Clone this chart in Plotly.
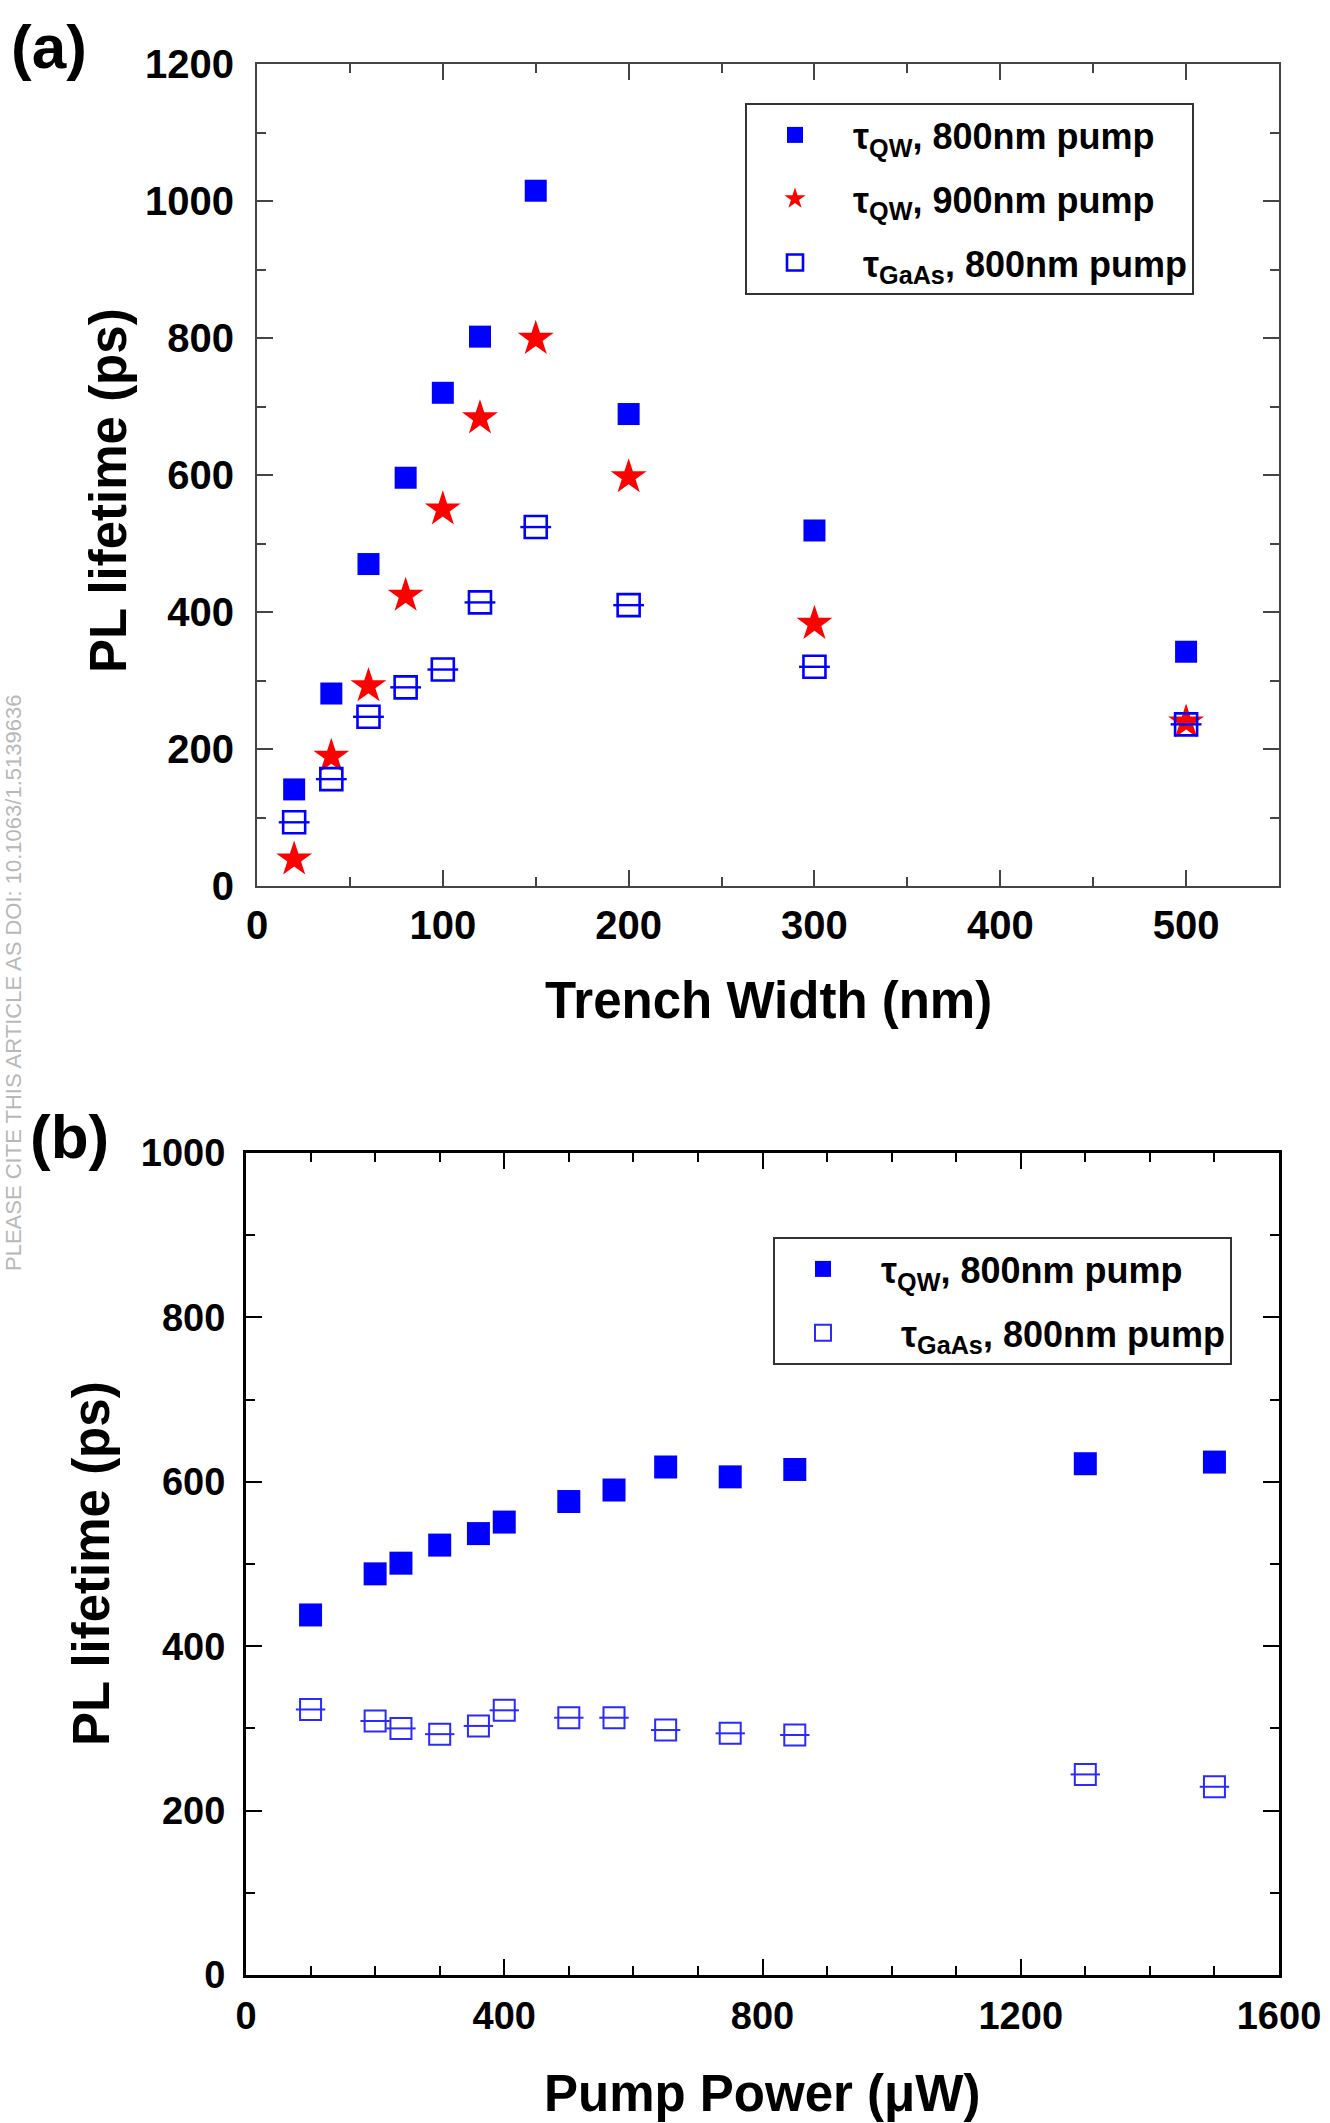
import plotly.graph_objects as go

# ---------------- data: panel (a) ----------------
trench_width = [20, 40, 60, 80, 100, 120, 150, 200, 300, 500]
tau_qw_800 = [141, 281, 470, 596, 720, 802, 1015, 689, 519, 342]
tau_qw_900 = [39, 189, 292, 424, 550, 683, 799, 597, 383, 239]
tau_gaas_800 = [93, 156, 247, 290, 316, 414, 524, 410, 320, 236]

# ---------------- data: panel (b) ----------------
pump_power = [100, 200, 240, 300, 360, 400, 500, 570, 650, 750, 850, 1300, 1500]
tau_qw_b = [438, 488, 501, 523, 537, 551, 576, 590, 618, 606, 615, 622, 624]
tau_gaas_b = [323, 309, 300, 293, 303, 322, 313, 313, 298, 294, 292, 244, 229]

W, H = 1330, 2123
FONT = "Liberation Sans, Arial, sans-serif"
BLUE = "#0000ff"
RED = "#ff0000"
LBLUE = "#2a2aff"
NB = "\u00a0"

fig = go.Figure()

# panel (a)
fig.add_trace(go.Scatter(x=trench_width, y=tau_qw_800, mode="markers", xaxis="x", yaxis="y",
                         name=NB + "τ<sub>QW</sub>, 800nm pump", legend="legend", legendgroup="a1",
                         marker=dict(symbol="square", size=22, color=BLUE, line=dict(width=0))))
fig.add_trace(go.Scatter(x=trench_width, y=tau_qw_900, mode="markers", xaxis="x", yaxis="y",
                         name=NB + "τ<sub>QW</sub>, 900nm pump", legend="legend", legendgroup="a2",
                         marker=dict(symbol="star", size=27, color=RED, line=dict(width=0))))
fig.add_trace(go.Scatter(x=trench_width, y=tau_gaas_800, mode="markers", xaxis="x", yaxis="y",
                         name=NB * 2 + "τ<sub>GaAs</sub>, 800nm pump", legend="legend", legendgroup="a3",
                         marker=dict(symbol="square-open", size=22, color=BLUE,
                                     line=dict(width=2.6, color=BLUE))))
fig.add_trace(go.Scatter(x=trench_width, y=tau_gaas_800, mode="markers", xaxis="x", yaxis="y",
                         showlegend=False, legend="legend", legendgroup="a3", hoverinfo="skip",
                         marker=dict(symbol="line-ew", size=22, color=BLUE,
                                     line=dict(width=2.4, color=BLUE))))

# panel (b)
fig.add_trace(go.Scatter(x=pump_power, y=tau_qw_b, mode="markers", xaxis="x2", yaxis="y2",
                         name=NB + "τ<sub>QW</sub>, 800nm pump", legend="legend2", legendgroup="b1",
                         marker=dict(symbol="square", size=23, color=BLUE, line=dict(width=0))))
fig.add_trace(go.Scatter(x=pump_power, y=tau_gaas_b, mode="markers", xaxis="x2", yaxis="y2",
                         name=NB * 3 + "τ<sub>GaAs</sub>, 800nm pump", legend="legend2", legendgroup="b2",
                         marker=dict(symbol="square-open", size=21, color=LBLUE,
                                     line=dict(width=2, color=LBLUE))))
fig.add_trace(go.Scatter(x=pump_power, y=tau_gaas_b, mode="markers", xaxis="x2", yaxis="y2",
                         showlegend=False, legend="legend2", legendgroup="b2", hoverinfo="skip",
                         marker=dict(symbol="line-ew", size=21, color=LBLUE,
                                     line=dict(width=2, color=LBLUE))))


def axis_style(dtick, minor_dtick, rng, domain, anchor, color, lw, fsize, standoff):
    return dict(
        domain=domain, anchor=anchor, range=rng, dtick=dtick, tick0=0,
        ticks="inside", ticklen=16, tickwidth=2, tickcolor=color,
        minor=dict(dtick=minor_dtick, tick0=0, ticks="inside", ticklen=9, tickwidth=2, tickcolor=color),
        showline=True, linecolor=color, linewidth=lw, mirror="allticks",
        showgrid=False, zeroline=False, automargin=False,
        tickfont=dict(family=FONT, size=fsize, color="black", weight="bold"),
        ticklabelstandoff=standoff,
    )


xa_dom = [257 / W, 1279 / W]
ya_dom = [1 - 886 / H, 1 - 64 / H]
xb_dom = [246 / W, 1279 / W]
yb_dom = [1 - 1975 / H, 1 - 1153 / H]

legend_common = dict(xanchor="left", yanchor="top", bgcolor="white", bordercolor="#333333",
                     borderwidth=2, font=dict(family=FONT, size=36, color="black", weight="bold"),
                     itemwidth=86, traceorder="grouped", tracegroupgap=14)

fig.update_layout(
    width=W, height=H,
    margin=dict(l=0, r=0, t=0, b=0),
    paper_bgcolor="white", plot_bgcolor="white",
    font=dict(family=FONT, color="black"),
    xaxis=axis_style(100, 50, [0, 550], xa_dom, "y", "#444444", 2, 40, 3),
    yaxis=axis_style(200, 100, [0, 1200], ya_dom, "x", "#444444", 2, 40, 13),
    xaxis2=axis_style(400, 100, [0, 1600], xb_dom, "y2", "black", 3, 38, 5),
    yaxis2=axis_style(200, 100, [0, 1000], yb_dom, "x2", "black", 3, 38, 10),
    legend=dict(x=745 / W, y=1 - 103 / H, **legend_common),
    legend2=dict(x=773 / W, y=1 - 1237 / H, **legend_common),
    showlegend=True,
)

# middle bar of the GaAs legend symbols (legend decoration)
legend_bars = [(795.5, 264.5, BLUE, 1.6), (823.5, 1334.5, LBLUE, 1.4)]
shapes = []
for cx, cy, col, lw in legend_bars:
    shapes.append(dict(type="line", xref="paper", yref="paper",
                       x0=(cx - 7) / W, x1=(cx + 7) / W, y0=1 - cy / H, y1=1 - cy / H,
                       line=dict(color=col, width=lw), layer="above"))
fig.update_layout(shapes=shapes)

ann_font_title = dict(family=FONT, size=51, color="black", weight="bold")
panel_font = dict(family=FONT, size=62, color="black", weight="bold")
annotations = [
    dict(text="PL lifetime (ps)", x=108 / W, y=1 - 491 / H, textangle=-90, font=ann_font_title),
    dict(text="Trench Width (nm)", x=768 / W, y=1 - 1000 / H, font=ann_font_title),
    dict(text="PL lifetime (ps)", x=91 / W, y=1 - 1564 / H, textangle=-90, font=ann_font_title),
    dict(text="Pump Power (μW)", x=762 / W, y=1 - 2093 / H, font=ann_font_title),
    dict(text="(a)", x=49 / W, y=1 - 46 / H, font=panel_font),
    dict(text="(b)", x=69 / W, y=1 - 1136 / H, font=panel_font),
    dict(text="PLEASE CITE THIS ARTICLE AS DOI: 10.1063/1.5139636", x=14 / W, y=1 - 983 / H,
         textangle=-90, font=dict(family=FONT, size=22, color="#b8b8b8")),
]
for a in annotations:
    a.update(xref="paper", yref="paper", showarrow=False, xanchor="center", yanchor="middle")
fig.update_layout(annotations=annotations)

fig.write_html("out.html")
